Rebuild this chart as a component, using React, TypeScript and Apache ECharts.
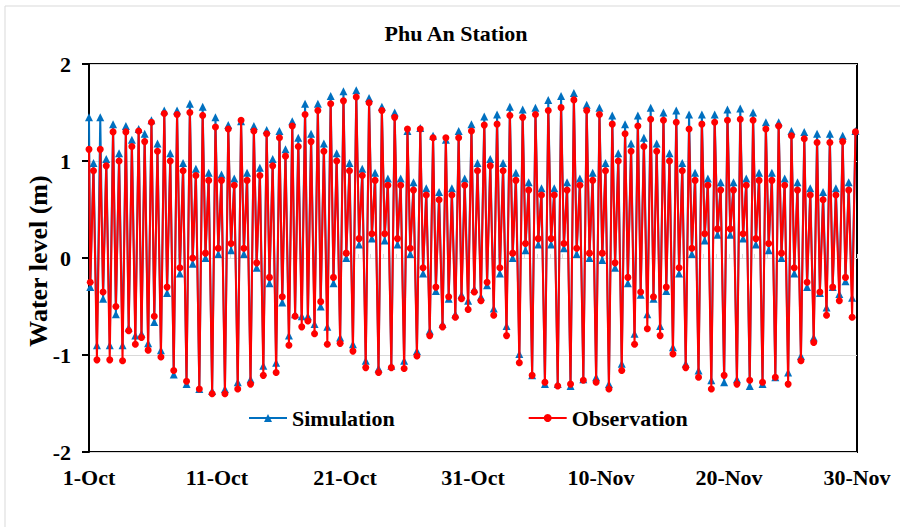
import React, { useEffect, useRef } from "react";
import * as echarts from "echarts";

// ---------- DATA ----------
// x = days since 1-Oct; each day holds four tidal turning points
const xTickLabels = ["1-Oct", "11-Oct", "21-Oct", "31-Oct", "10-Nov", "20-Nov", "30-Nov"];
const yTicks = [-2, -1, 0, 1, 2];
const turnTimes = [0.1, 0.35, 0.62, 0.88]; // higher low, lower high, lower low, higher high (fraction of day)

const simStart = 1.45;
const obsStart = 1.12;

// Simulation
const simHL = [-0.3, -0.42, -0.58, -0.72, -0.78, -0.66, -0.36, -0.16, -0.06, 0.0,
  0.04, 0.08, 0.04, -0.1, -0.26, -0.46, -0.58, -0.6, -0.5, -0.26,
  0.0, 0.14, 0.2, 0.18, 0.14, 0.04, -0.16, -0.34, -0.42, -0.38,
  -0.32, -0.28, -0.16, 0.0, 0.08, 0.14, 0.14, 0.1, 0.04, 0.0,
  -0.02, -0.1, -0.26, -0.38, -0.42, -0.34, -0.16, 0.04, 0.18, 0.24,
  0.24, 0.2, 0.14, 0.08, 0.0, -0.16, -0.3, -0.36, -0.3, -0.24];
const simLH = [0.98, 1.02, 1.08, 1.22, 1.28, 1.18, 1.08, 0.98, 0.92, 0.88,
  0.86, 0.82, 0.88, 0.93, 1.02, 1.12, 1.24, 1.28, 1.18, 1.08,
  0.98, 0.92, 0.88, 0.82, 0.82, 0.78, 0.72, 0.68, 0.72, 0.82,
  0.98, 1.02, 0.98, 0.88, 0.78, 0.72, 0.72, 0.78, 0.82, 0.88,
  0.98, 1.08, 1.18, 1.24, 1.18, 1.08, 0.98, 0.88, 0.82, 0.78,
  0.78, 0.82, 0.88, 0.88, 0.82, 0.78, 0.72, 0.68, 0.72, 0.78];
const simLL = [-0.9, -0.9, -0.9, -0.8, -0.88, -0.95, -1.2, -1.3, -1.35, -1.37,
  -1.35, -1.28, -1.25, -1.11, -1.08, -0.8, -0.6, -0.68, -0.71, -0.82,
  -0.89, -1.06, -1.14, -1.11, -1.06, -0.96, -0.75, -0.68, -0.58, -0.44,
  -0.4, -0.52, -0.7, -0.99, -1.21, -1.3, -1.3, -1.32, -1.25, -1.23,
  -1.3, -1.09, -0.78, -0.58, -0.7, -0.92, -1.09, -1.16, -1.26, -1.28,
  -1.25, -1.32, -1.3, -1.23, -1.18, -1.01, -0.82, -0.51, -0.37, -0.41];
const simHH = [1.45, 1.38, 1.36, 1.33, 1.42, 1.52, 1.52, 1.59, 1.56, 1.45,
  1.37, 1.41, 1.36, 1.32, 1.31, 1.41, 1.59, 1.59, 1.67, 1.72,
  1.73, 1.65, 1.56, 1.5, 1.31, 1.34, 1.26, 1.22, 1.31, 1.38,
  1.46, 1.48, 1.56, 1.53, 1.55, 1.63, 1.67, 1.7, 1.58, 1.55,
  1.47, 1.38, 1.47, 1.55, 1.5, 1.52, 1.48, 1.48, 1.48, 1.53,
  1.54, 1.5, 1.4, 1.4, 1.31, 1.3, 1.28, 1.28, 1.26, 1.31];

// Observation
const obsHL = [-0.25, -0.35, -0.5, -0.75, -0.82, -0.6, -0.3, -0.1, 0.0, 0.05,
  0.1, 0.15, 0.1, -0.05, -0.2, -0.4, -0.6, -0.65, -0.45, -0.2,
  0.05, 0.2, 0.25, 0.25, 0.2, 0.1, -0.1, -0.3, -0.4, -0.42,
  -0.35, -0.25, -0.1, 0.05, 0.15, 0.2, 0.2, 0.15, 0.1, 0.05,
  0.05, -0.05, -0.2, -0.35, -0.4, -0.3, -0.1, 0.1, 0.25, 0.3,
  0.3, 0.25, 0.2, 0.15, 0.05, -0.1, -0.25, -0.35, -0.3, -0.2];
const obsLH = [0.9, 0.95, 1.0, 1.15, 1.2, 1.1, 1.0, 0.9, 0.85, 0.8,
  0.8, 0.75, 0.8, 0.85, 0.95, 1.05, 1.15, 1.2, 1.1, 1.0,
  0.9, 0.85, 0.8, 0.75, 0.75, 0.7, 0.65, 0.6, 0.65, 0.75,
  0.9, 0.95, 0.9, 0.8, 0.7, 0.65, 0.65, 0.7, 0.75, 0.8,
  0.9, 1.0, 1.1, 1.15, 1.1, 1.0, 0.9, 0.8, 0.75, 0.7,
  0.7, 0.75, 0.8, 0.8, 0.75, 0.7, 0.65, 0.6, 0.65, 0.7];
const obsLL = [-1.05, -1.05, -1.06, -0.89, -0.95, -1.02, -1.16, -1.27, -1.35, -1.4,
  -1.4, -1.35, -1.3, -1.21, -1.18, -0.9, -0.71, -0.78, -0.89, -0.88,
  -0.96, -1.13, -1.18, -1.13, -1.14, -1.01, -0.8, -0.71, -0.61, -0.53,
  -0.44, -0.59, -0.8, -1.08, -1.21, -1.28, -1.32, -1.3, -1.26, -1.28,
  -1.35, -1.16, -0.89, -0.73, -0.8, -0.99, -1.13, -1.23, -1.35, -1.21,
  -1.3, -1.26, -1.28, -1.23, -1.3, -1.06, -0.87, -0.59, -0.44, -0.61];
const obsHH = [1.12, 1.3, 1.3, 1.31, 1.4, 1.49, 1.48, 1.5, 1.47, 1.35,
  1.33, 1.42, 1.31, 1.28, 1.24, 1.36, 1.48, 1.52, 1.59, 1.62,
  1.66, 1.6, 1.52, 1.45, 1.33, 1.33, 1.24, 1.24, 1.24, 1.31,
  1.37, 1.38, 1.47, 1.45, 1.48, 1.52, 1.55, 1.63, 1.52, 1.48,
  1.38, 1.28, 1.36, 1.43, 1.42, 1.4, 1.33, 1.38, 1.4, 1.42,
  1.43, 1.42, 1.33, 1.36, 1.26, 1.23, 1.19, 1.19, 1.2, 1.3];

// ---------- BUILD ----------
function buildSeries(start: number, hl: number[], lh: number[], ll: number[], hh: number[]) {
  const out: number[][] = [[0, start]];
  for (let d = 0; d < hh.length; d++) {
    const vals = [hl[d], lh[d], ll[d], hh[d]];
    for (let k = 0; k < 4; k++) out.push([d + turnTimes[k], vals[k]]);
  }
  return out;
}

const FONT = "'Liberation Serif', 'Times New Roman', serif";

export default function App() {
  const ref = useRef<HTMLDivElement>(null);

  useEffect(() => {
    if (!ref.current) return;
    const chart = echarts.init(ref.current, null, { renderer: "svg" });
    const simData = buildSeries(simStart, simHL, simLH, simLL, simHH);
    const obsData = buildSeries(obsStart, obsHL, obsLH, obsLL, obsHH);

    const option: any = {
      animation: false,
      backgroundColor: "#ffffff",
      grid: {
        left: 89,
        top: 64,
        right: 43,
        bottom: 75,
        show: true,
        borderColor: "#000000",
        borderWidth: 2,
        backgroundColor: "transparent",
      },
      graphic: [
        {
          type: "rect",
          shape: { x: 5, y: 6, width: 900, height: 530 },
          style: { fill: "none", stroke: "#d9d9d9", lineWidth: 1 },
          silent: true,
          z: -10,
        },
        {
          type: "text",
          x: 456,
          y: 33,
          style: {
            text: "Phu An Station",
            font: `bold 22px ${FONT}`,
            fill: "#000",
            align: "center",
            verticalAlign: "middle",
          },
        },
        {
          type: "text",
          x: 38,
          y: 261,
          rotation: Math.PI / 2,
          style: {
            text: "Water level (m)",
            font: `bold 26px ${FONT}`,
            fill: "#000",
            align: "center",
            verticalAlign: "middle",
          },
        },
      ],
      legend: {
        left: 243,
        top: 402,
        itemGap: 133,
        itemWidth: 38,
        itemHeight: 10,
        textStyle: { fontFamily: FONT, fontWeight: "bold", fontSize: 22, color: "#000" },
        data: ["Simulation", "Observation"],
      },
      xAxis: [
        {
          type: "value",
          min: 0,
          max: 60,
          interval: 10,
          axisLine: { show: false, onZero: false },
          axisTick: { show: false },
          splitLine: { show: false },
          axisLabel: {
            margin: 14,
            fontFamily: FONT,
            fontWeight: "bold",
            fontSize: 22,
            color: "#000",
            formatter: (v: number) => xTickLabels[Math.round(v / 10)] ?? "",
          },
        },
        {
          type: "value",
          min: 0,
          max: 60,
          interval: 1,
          axisLine: { show: true, onZero: true, lineStyle: { color: "#d9d9d9", width: 1 } },
          axisTick: { show: true, length: 4, lineStyle: { color: "#d9d9d9" } },
          axisLabel: { show: false },
          splitLine: { show: false },
        },
      ],
      yAxis: {
        type: "value",
        min: yTicks[0],
        max: yTicks[yTicks.length - 1],
        interval: 1,
        axisLine: { show: true, lineStyle: { color: "#000", width: 2 } },
        axisTick: { show: true, length: 7, lineStyle: { color: "#000", width: 2 } },
        splitLine: { show: true, lineStyle: { color: "#d9d9d9", width: 1 } },
        axisLabel: {
          margin: 18,
          fontFamily: FONT,
          fontWeight: "bold",
          fontSize: 22,
          color: "#000",
        },
      },
      series: [
        {
          name: "Simulation",
          type: "line",
          xAxisIndex: 0,
          data: simData,
          symbol: "triangle",
          symbolSize: 8,
          showSymbol: true,
          showAllSymbol: true,
          itemStyle: { color: "#0070C0" },
          lineStyle: { color: "#0070C0", width: 2 },
          z: 3,
        },
        {
          name: "Observation",
          type: "line",
          xAxisIndex: 0,
          data: obsData,
          symbol: "circle",
          symbolSize: 7,
          showSymbol: true,
          showAllSymbol: true,
          itemStyle: { color: "#FF0000" },
          lineStyle: { color: "#FF0000", width: 2 },
          z: 4,
        },
      ],
    };
    chart.setOption(option);
    return () => chart.dispose();
  }, []);

  return (
    <div
      ref={ref}
      style={{ position: "absolute", left: 0, top: 0, width: 900, height: 527, background: "#fff" }}
    />
  );
}
